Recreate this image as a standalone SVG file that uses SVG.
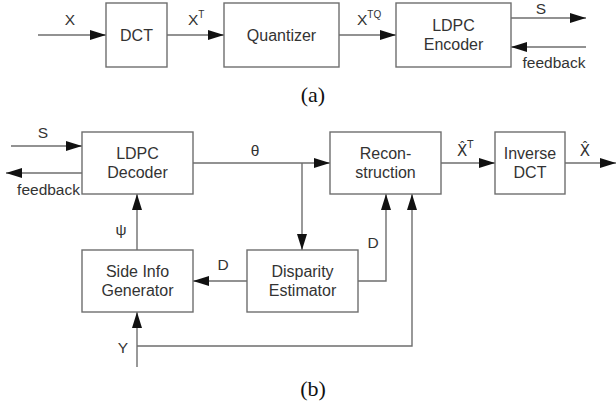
<svg xmlns="http://www.w3.org/2000/svg" width="616" height="406" viewBox="0 0 616 406">
<style>
.box{fill:#fff;stroke:#6e6e6e;stroke-width:1.4}
.ln{fill:none;stroke:#6e6e6e;stroke-width:1.4}
text{font-family:"Liberation Sans",Arial,sans-serif;fill:#333;font-size:16px}
.c{text-anchor:middle}
.lb{font-size:15.5px}
.hat{font-family:"DejaVu Sans","Liberation Sans",sans-serif;font-size:15px}
.sup{font-size:10px}
.cap{font-family:"Liberation Serif","Times New Roman",serif;font-size:22px;fill:#111}
</style>
<defs>
<marker id="ah" markerUnits="userSpaceOnUse" markerWidth="16" markerHeight="10" refX="16" refY="5" orient="auto">
<path d="M0,0 L16,5 L0,10 z" fill="#111"/>
</marker>
</defs>
<rect width="616" height="406" fill="#fff"/>
<g id="connectors">
<path class="ln" d="M38,35 H106" marker-end="url(#ah)"/>
<path class="ln" d="M167,35 H224" marker-end="url(#ah)"/>
<path class="ln" d="M339,35 H396" marker-end="url(#ah)"/>
<path class="ln" d="M511,18 H586" marker-end="url(#ah)"/>
<path class="ln" d="M586,47 H511" marker-end="url(#ah)"/>
<path class="ln" d="M11,146 H82" marker-end="url(#ah)"/>
<path class="ln" d="M82,173 H6" marker-end="url(#ah)"/>
<path class="ln" d="M193,163 H330" marker-end="url(#ah)"/>
<path class="ln" d="M302,163 V250" marker-end="url(#ah)"/>
<path class="ln" d="M137,250 V194" marker-end="url(#ah)"/>
<path class="ln" d="M247,281 H193" marker-end="url(#ah)"/>
<path class="ln" d="M358,281 H386 V194" marker-end="url(#ah)"/>
<path class="ln" d="M137,367 V312" marker-end="url(#ah)"/>
<path class="ln" d="M137,346 H412 V194" marker-end="url(#ah)"/>
<path class="ln" d="M441,163 H495" marker-end="url(#ah)"/>
<path class="ln" d="M565,163 H616" marker-end="url(#ah)"/>
<text class="lb c" x="70" y="25">X</text>
<text class="lb" x="188" y="25">X<tspan class="sup" dy="-7">T</tspan></text>
<text class="lb" x="357" y="25">X<tspan class="sup" dy="-7">TQ</tspan></text>
<text class="lb c" x="541" y="14">S</text>
<text class="lb c" x="554" y="68">feedback</text>
<text class="lb c" x="43" y="138">S</text>
<text class="lb" x="80" y="195" text-anchor="end">feedback</text>
<text class="lb c" x="255" y="156">θ</text>
<text class="lb c" x="121" y="235">ψ</text>
<text class="lb c" x="223" y="270">D</text>
<text class="lb c" x="373" y="248">D</text>
<text class="lb c" x="123" y="353">Y</text>
<text class="hat" x="457" y="156">X̂<tspan class="sup" dy="-8">T</tspan></text>
<text class="hat c" x="585" y="156">X̂</text>
</g>
<g id="dct"><rect class="box" x="106" y="3" width="61" height="64"/><text class="c" x="136.5" y="41">DCT</text></g>
<g id="quantizer"><rect class="box" x="224" y="3" width="115" height="64"/><text class="c" x="281.5" y="41">Quantizer</text></g>
<g id="ldpc-encoder"><rect class="box" x="396" y="3" width="115" height="64"/><text class="c" x="453.5" y="31">LDPC</text><text class="c" x="453.5" y="50">Encoder</text></g>
<g id="ldpc-decoder"><rect class="box" x="82" y="132" width="111" height="62"/><text class="c" x="137.5" y="159">LDPC</text><text class="c" x="137.5" y="178">Decoder</text></g>
<g id="reconstruction"><rect class="box" x="330" y="132" width="111" height="62"/><text class="c" x="385.5" y="159">Recon-</text><text class="c" x="385.5" y="178">struction</text></g>
<g id="inverse-dct"><rect class="box" x="495" y="132" width="70" height="62"/><text class="c" x="530" y="159">Inverse</text><text class="c" x="530" y="178">DCT</text></g>
<g id="side-info"><rect class="box" x="82" y="250" width="111" height="62"/><text class="c" x="137.5" y="277">Side Info</text><text class="c" x="137.5" y="296">Generator</text></g>
<g id="disparity"><rect class="box" x="247" y="250" width="111" height="62"/><text class="c" x="302.5" y="277">Disparity</text><text class="c" x="302.5" y="296">Estimator</text></g>
<text class="cap c" x="313" y="102">(a)</text>
<text class="cap c" x="313" y="396">(b)</text>
</svg>
